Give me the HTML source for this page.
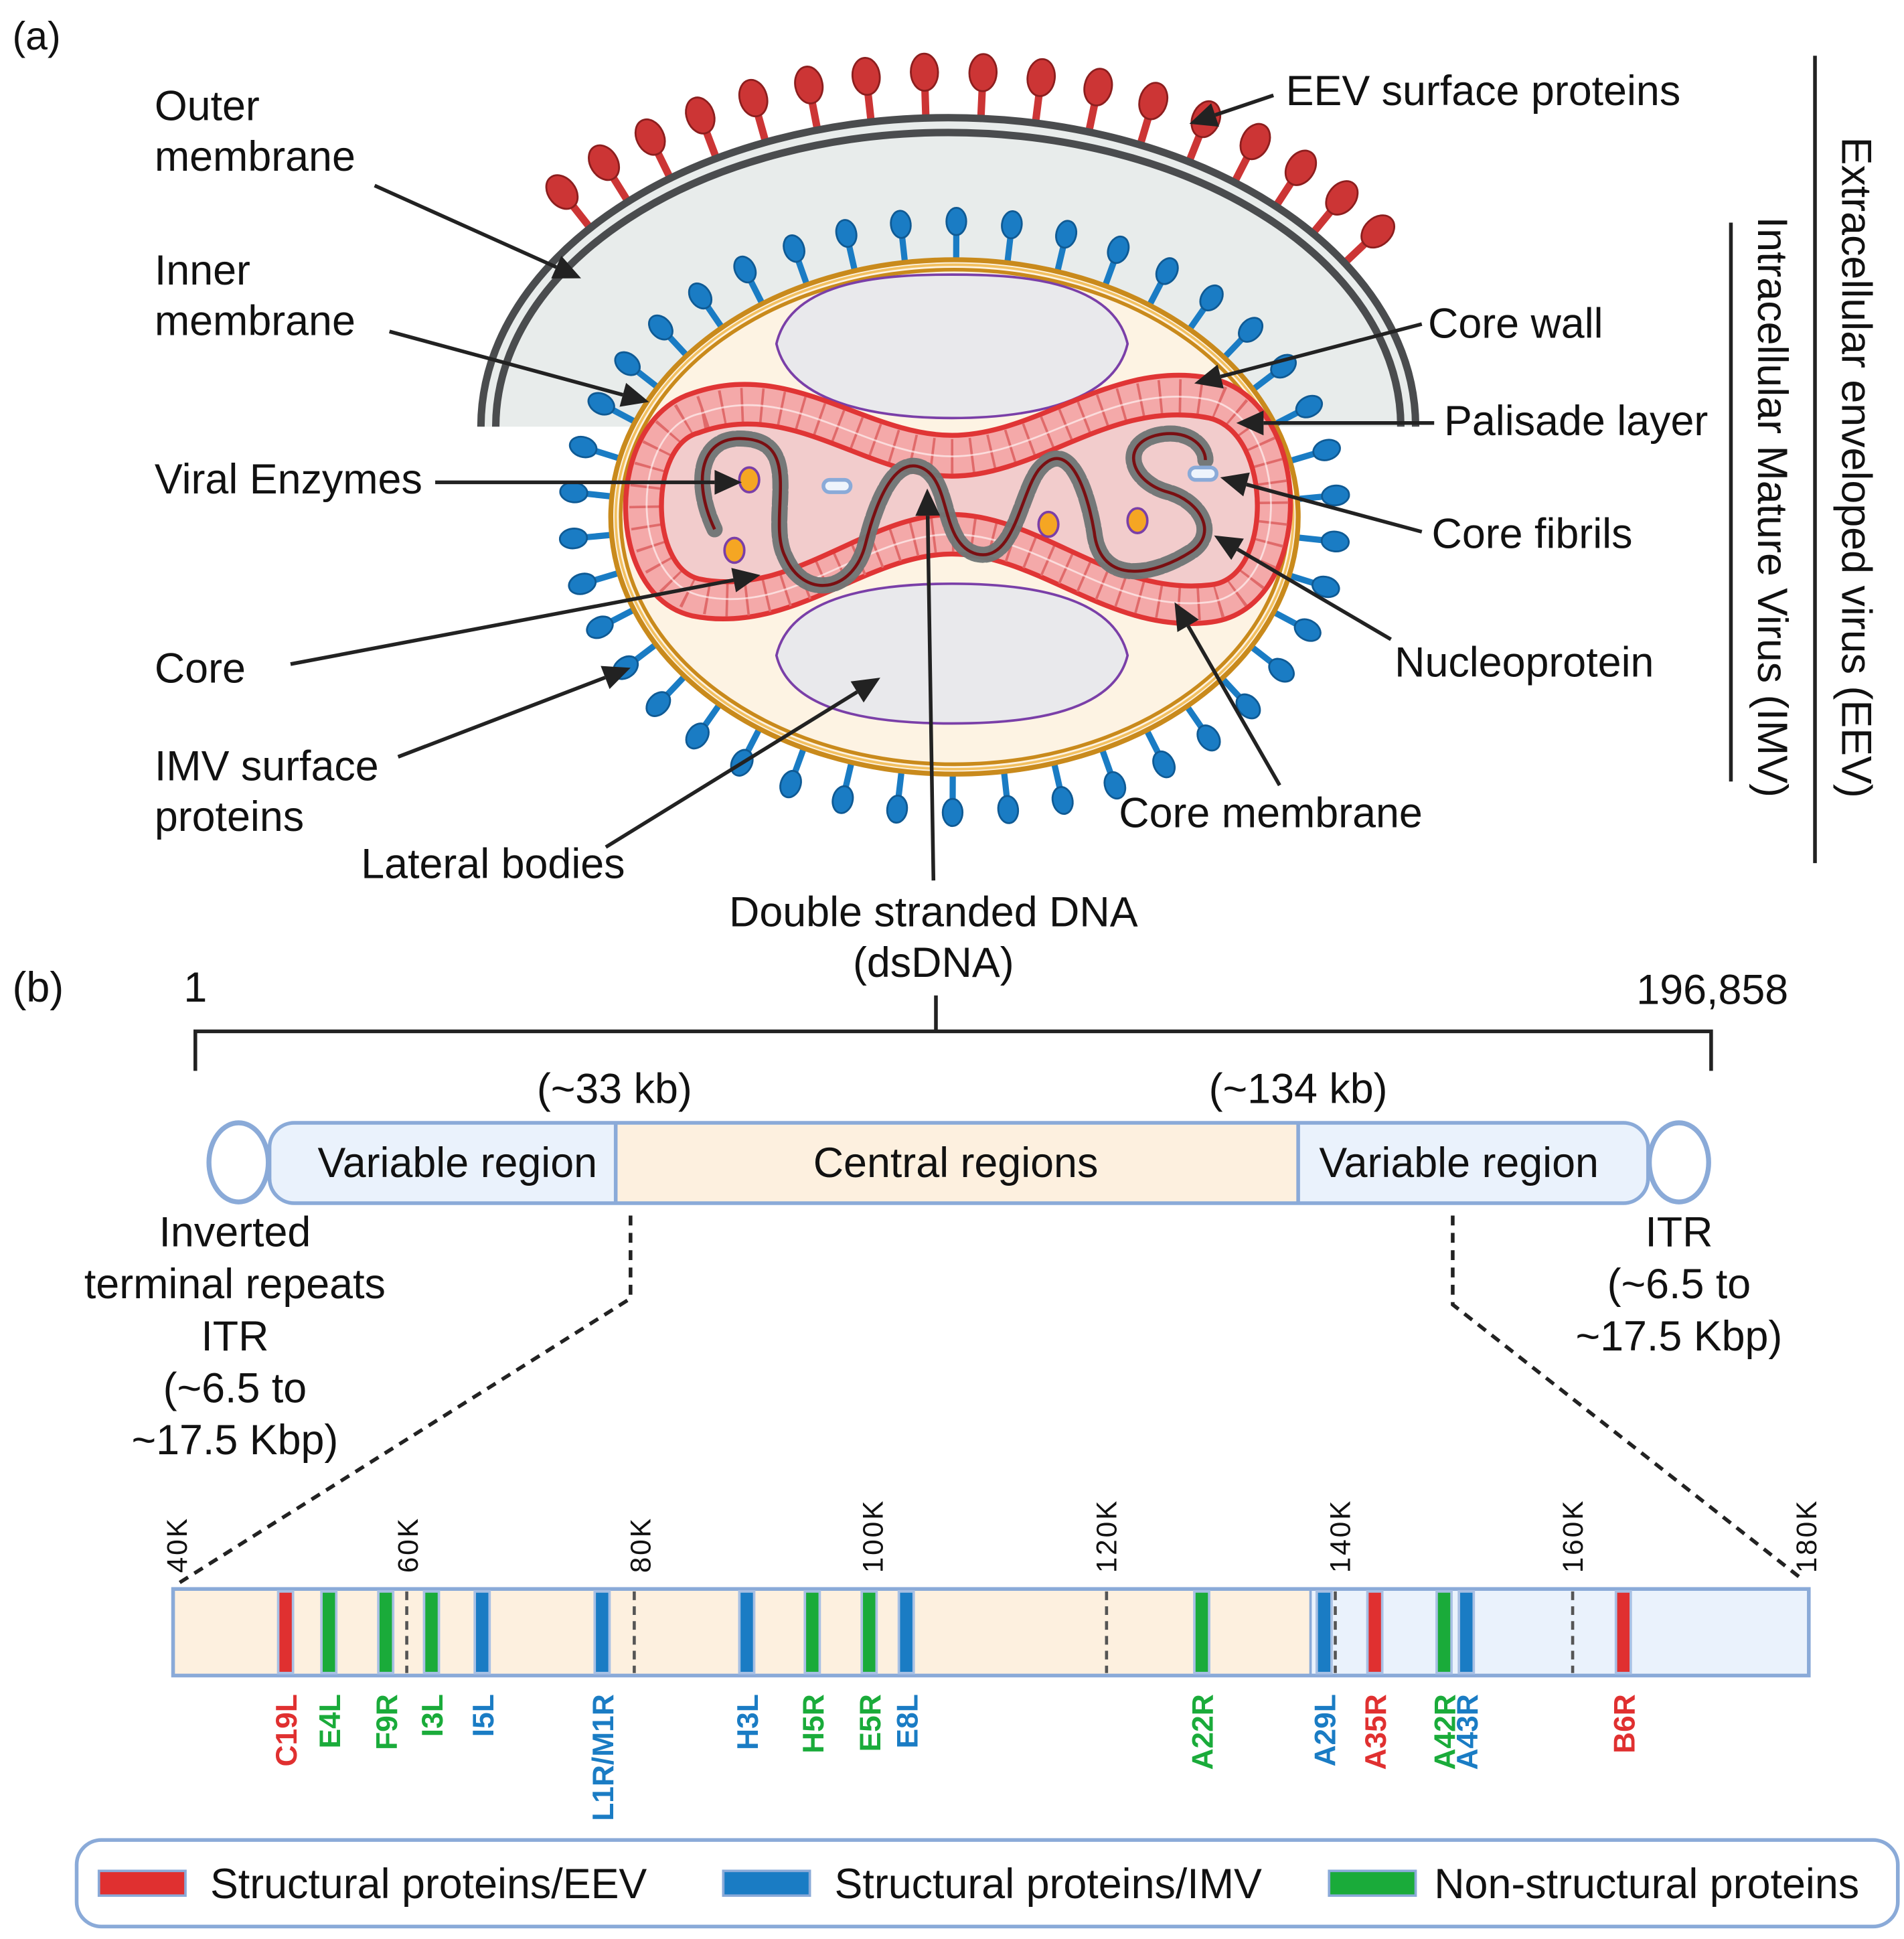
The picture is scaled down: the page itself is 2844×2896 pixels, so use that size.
<!DOCTYPE html>
<html><head><meta charset="utf-8"><style>
html,body{margin:0;padding:0;background:#fff}
svg{display:block}
text{font-family:"Liberation Sans",sans-serif;fill:#111}
</style></head><body>
<svg id="s" xmlns="http://www.w3.org/2000/svg" width="2844" height="2896" viewBox="0 0 1540 1568">
<rect width="1540" height="1568" fill="#fff"/>
<text x="10" y="40" font-size="32">(a)</text>
<path d="M389,345 A378,250 0 0 1 1145,345 Z" fill="#e8eceb"/>
<g id="red"></g>
<path d="M389,345 A378,250 0 0 1 1145,345" fill="none" stroke="#4a4c4e" stroke-width="6"/>
<path d="M401,345 A366,238 0 0 1 1133,345" fill="none" stroke="#4a4c4e" stroke-width="6"/>
<g id="blue"></g>
<ellipse cx="772" cy="418" rx="278" ry="208" fill="#fdf3e3" stroke="#c98a1c" stroke-width="4"/>
<ellipse cx="772" cy="418" rx="270" ry="200" fill="none" stroke="#c98a1c" stroke-width="3"/>
<ellipse cx="772" cy="418" rx="274" ry="204" fill="none" stroke="#f2c060" stroke-width="2"/>
<path d="M628,278 C640,225 720,222 770,222 C820,222 900,225 912,278 C900,330 820,338 770,338 C720,338 640,330 628,278 Z" fill="#e9e9ec" stroke="#7a3fa8" stroke-width="2"/>
<path d="M628,530 C640,478 720,472 770,472 C820,472 900,478 912,530 C900,580 820,585 770,585 C720,585 640,580 628,530 Z" fill="#e9e9ec" stroke="#7a3fa8" stroke-width="2"/>
<path d="M560,318 C640,290 700,352 770,352 C840,352 900,290 980,306 C1065,325 1065,492 980,503 C900,514 840,448 770,448 C700,448 640,514 560,498 C488,482 488,340 560,318 Z" fill="#f4a9a9" stroke="#e03535" stroke-width="4"/>
<path d="M568,334 C640,308 700,369 770,369 C840,369 900,308 977,323 C1045,338 1045,480 977,487 C900,496 840,432 770,432 C700,432 640,498 568,482 C508,470 508,345 568,334 Z" fill="none" stroke="#e06a6a" stroke-width="28" stroke-dasharray="2 14"/>
<path d="M568,334 C640,308 700,369 770,369 C840,369 900,308 977,323 C1045,338 1045,480 977,487 C900,496 840,432 770,432 C700,432 640,498 568,482 C508,470 508,345 568,334 Z" fill="none" stroke="#fff" stroke-width="1.5" opacity="0.6"/>
<path d="M565,350 C640,322 700,385 770,385 C840,385 900,322 978,338 C1030,350 1030,470 978,473 C900,482 840,416 770,416 C700,416 640,484 565,468 C525,458 525,360 565,350 Z" fill="#f2cccc" stroke="#e03535" stroke-width="4"/>
<g fill="none" stroke-linecap="round">
<path id="dna" d="M578,428 C560,390 565,350 605,355 C650,360 620,420 635,450 C650,485 690,480 700,440 C710,400 725,370 745,378 C770,388 760,440 790,448 C820,455 825,400 840,380 C865,350 880,400 885,430 C890,475 935,465 965,445 C985,430 970,405 945,398 C915,390 905,360 935,352 C960,346 975,360 975,372" stroke="#6f7576" stroke-width="13" stroke-dasharray="10 3" opacity="0.8"/>
<use href="#dna" stroke="#7a0f12" stroke-width="3" stroke-dasharray="5 3" opacity="1"/>
</g>
<path d="M578,428 C560,390 565,350 605,355 C650,360 620,420 635,450 C650,485 690,480 700,440 C710,400 725,370 745,378 C770,388 760,440 790,448 C820,455 825,400 840,380 C865,350 880,400 885,430 C890,475 935,465 965,445 C985,430 970,405 945,398 C915,390 905,360 935,352 C960,346 975,360 975,372" fill="none" stroke="#7a0f12" stroke-width="2.5"/>
<g fill="#f5a623" stroke="#7a3fa8" stroke-width="2">
<ellipse cx="606" cy="388" rx="8" ry="10"/><ellipse cx="594" cy="445" rx="8" ry="10"/>
<ellipse cx="848" cy="424" rx="8" ry="10"/><ellipse cx="920" cy="421" rx="8" ry="10"/>
</g>
<g fill="#eef4fc" stroke="#8aaad8" stroke-width="3">
<rect x="666" y="388" width="22" height="10" rx="5"/><rect x="962" y="378" width="22" height="10" rx="5"/>
</g>
<g font-size="34">
<text x="125" y="97">Outer</text><text x="125" y="138">membrane</text>
<text x="125" y="230">Inner</text><text x="125" y="271">membrane</text>
<text x="125" y="399">Viral Enzymes</text>
<text x="125" y="552">Core</text>
<text x="125" y="631">IMV surface</text><text x="125" y="672">proteins</text>
<text x="292" y="710">Lateral bodies</text>
<text x="755" y="749" text-anchor="middle">Double stranded DNA</text>
<text x="755" y="790" text-anchor="middle">(dsDNA)</text>
<text x="905" y="669">Core membrane</text>
<text x="1128" y="547">Nucleoprotein</text>
<text x="1158" y="443">Core fibrils</text>
<text x="1168" y="352">Palisade layer</text>
<text x="1155" y="273">Core wall</text>
<text x="1040" y="85">EEV surface proteins</text>
<text transform="translate(1490,378) rotate(90)" text-anchor="middle">Extracellular enveloped virus (EEV)</text>
<text transform="translate(1422,410) rotate(90)" text-anchor="middle">Intracellular Mature Virus (IMV)</text>
</g>
<line x1="1468" y1="45" x2="1468" y2="698" stroke="#222" stroke-width="3"/>
<line x1="1400" y1="180" x2="1400" y2="632" stroke="#222" stroke-width="3"/>
<g id="arrows" stroke="#222" stroke-width="3" fill="#222"></g>
<g font-size="34">
<text x="10" y="810">(b)</text>
<text x="158" y="810" text-anchor="middle">1</text>
<text x="1385" y="812" text-anchor="middle">196,858</text>
<text x="497" y="892" text-anchor="middle">(~33 kb)</text>
<text x="1050" y="892" text-anchor="middle">(~134 kb)</text>
</g>
<path d="M158,866 V834 H1384 V866 M757,834 V805" fill="none" stroke="#222" stroke-width="3"/>
<ellipse cx="193" cy="940" rx="24" ry="32" fill="#fff" stroke="#8aaad8" stroke-width="4"/>
<ellipse cx="1358" cy="940" rx="24" ry="32" fill="#fff" stroke="#8aaad8" stroke-width="4"/>
<path d="M238,908 H498 V973 H238 A20,20 0 0 1 218,953 V928 A20,20 0 0 1 238,908 Z" fill="#eaf2fc"/>
<rect x="498" y="908" width="552" height="65" fill="#fdf0df"/>
<path d="M1050,908 H1313 A20,20 0 0 1 1333,928 V953 A20,20 0 0 1 1313,973 H1050 Z" fill="#eaf2fc"/>
<rect x="218" y="908" width="1115" height="65" rx="20" fill="none" stroke="#8aaad8" stroke-width="3"/>
<line x1="498" y1="908" x2="498" y2="973" stroke="#8aaad8" stroke-width="3"/>
<line x1="1050" y1="908" x2="1050" y2="973" stroke="#8aaad8" stroke-width="3"/>
<g font-size="34" text-anchor="middle">
<text x="370" y="952">Variable region</text>
<text x="773" y="952">Central regions</text>
<text x="1180" y="952">Variable region</text>
<text x="190" y="1008">Inverted</text><text x="190" y="1050">terminal repeats</text>
<text x="190" y="1092">ITR</text><text x="190" y="1134">(~6.5 to</text><text x="190" y="1176">~17.5 Kbp)</text>
<text x="1358" y="1008">ITR</text><text x="1358" y="1050">(~6.5 to</text><text x="1358" y="1092">~17.5 Kbp)</text>
</g>
<path d="M510,983 V1050 L145,1280 M1175,983 V1055 L1455,1275" fill="none" stroke="#222" stroke-width="3" stroke-dasharray="8 6"/>
<rect x="140" y="1285" width="920" height="70" fill="#fdf0df"/>
<rect x="1060" y="1285" width="403" height="70" fill="#eaf2fc"/>
<line x1="1060" y1="1285" x2="1060" y2="1355" stroke="#8aaad8" stroke-width="2"/>
<rect x="140" y="1285" width="1323" height="70" fill="none" stroke="#8aaad8" stroke-width="3"/>
<g stroke="#555" stroke-width="2.5" stroke-dasharray="7 5">
<line x1="329" y1="1287" x2="329" y2="1353"/><line x1="513" y1="1287" x2="513" y2="1353"/>
<line x1="895" y1="1287" x2="895" y2="1353"/><line x1="1080" y1="1287" x2="1080" y2="1353"/>
<line x1="1272" y1="1287" x2="1272" y2="1353"/>
</g>
<g id="ticks" font-size="23" letter-spacing="1.5"></g>
<g id="genes"></g>
<rect x="62" y="1488" width="1473" height="70" rx="20" fill="none" stroke="#8aaad8" stroke-width="3"/>
<rect x="80" y="1513" width="70" height="20" fill="#e03030" stroke="#8aaad8" stroke-width="2"/>
<rect x="585" y="1513" width="70" height="20" fill="#1a7cc4" stroke="#8aaad8" stroke-width="2"/>
<rect x="1075" y="1513" width="70" height="20" fill="#1aab3a" stroke="#8aaad8" stroke-width="2"/>
<g font-size="34">
<text x="170" y="1535">Structural proteins/EEV</text>
<text x="675" y="1535">Structural proteins/IMV</text>
<text x="1160" y="1535">Non-structural proteins</text>
</g>
</svg>
<script>
var NS="http://www.w3.org/2000/svg";
function el(p,t,a,txt){var e=document.createElementNS(NS,t);for(var k in a)e.setAttribute(k,a[k]);if(txt)e.textContent=txt;document.getElementById(p).appendChild(e);return e;}
function lolli(g,cx,cy,rx,ry,t,len,hr,hy,col,dark,sw){
 var x=cx+rx*Math.cos(t),y=cy-ry*Math.sin(t);
 var nx=Math.cos(t)/rx,ny=-Math.sin(t)/ry,n=Math.hypot(nx,ny);nx/=n;ny/=n;
 var x2=x+nx*len,y2=y+ny*len;
 el(g,"line",{x1:x,y1:y,x2:x2,y2:y2,stroke:col,"stroke-width":sw,"stroke-linecap":"round"});
 var ang=Math.atan2(ny,nx)*180/Math.PI;
 el(g,"ellipse",{cx:x2+nx*hy,cy:y2+ny*hy,rx:hy,ry:hr,fill:col,stroke:dark,"stroke-width":1.5,transform:"rotate("+ang+" "+(x2+nx*hy)+" "+(y2+ny*hy)+")"});
}
var i,t;
for(i=0;i<17;i++){t=(140-i*(108/16))*Math.PI/180;lolli("red",767,345,378,250,t,22,11,15,"#cc3535","#8c1e1e",6);}
for(i=0;i<42;i++){t=(i*(360/42)+4)*Math.PI/180;lolli("blue",772,418,278,208,t,20,8,11,"#1a7cc4","#0f5a94",5);}
var arrows=[[303,150,470,225],[315,268,525,325],[352,390,600,390],[235,537,615,465],[322,612,510,540],[490,685,712,548],[755,712,750,395],[1035,635,950,487],[1125,517,982,433],[1150,430,987,386],[1160,342,1000,342],[1150,262,966,310],[1030,77,962,100]];
arrows.forEach(function(a){var dx=a[2]-a[0],dy=a[3]-a[1],L=Math.hypot(dx,dy),ux=dx/L,uy=dy/L;
 var bx=a[2]-ux*22,by=a[3]-uy*22;
 el("arrows","line",{x1:a[0],y1:a[1],x2:bx,y2:by});
 el("arrows","polygon",{points:a[2]+","+a[3]+" "+(bx-uy*10)+","+(by+ux*10)+" "+(bx+uy*10)+","+(by-ux*10),stroke:"none"});});
[["40K",143],["60K",330],["80K",518],["100K",706],["120K",895],["140K",1084],["160K",1272],["180K",1461]].forEach(function(k){
 el("ticks","text",{transform:"translate("+(k[1]+8)+",1272) rotate(-90)"},k[0]);});
var R="#e03030",B="#1a7cc4",G="#1aab3a";
[["C19L",231,R],["E4L",266,G],["F9R",312,G],["I3L",349,G],["I5L",390,B],["L1R/M1R",487,B],["H3L",604,B],["H5R",657,G],["E5R",703,G],["E8L",733,B],["A22R",972,G],["A29L",1071,B],["A35R",1112,R],["A42R",1168,G],["A43R",1186,B],["B6R",1313,R]].forEach(function(g){
 el("genes","rect",{x:g[1]-6,y:1287,width:12,height:66,fill:g[2],stroke:"#a8c0e4","stroke-width":2});
 el("genes","text",{transform:"translate("+(g[1]+9)+",1370) rotate(-90)","text-anchor":"end","font-size":"24","font-weight":"bold",style:"fill:"+g[2]},g[0]);});
</script>
</body></html>
